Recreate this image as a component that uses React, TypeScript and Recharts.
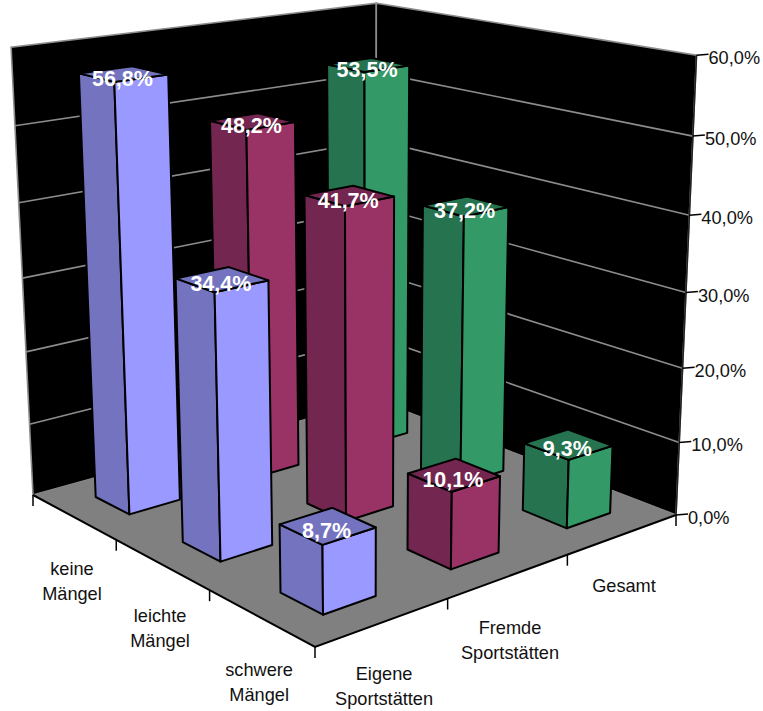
import React from "react";
import { BarChart, Bar, XAxis, YAxis, Customized } from "recharts";

const categories = [["keine", "Mängel"], ["leichte", "Mängel"], ["schwere", "Mängel"]];
const seriesLabels = [["Eigene", "Sportstätten"], ["Fremde", "Sportstätten"], ["Gesamt"]];
const eigene = [56.8, 34.4, 8.7];
const fremde = [48.2, 41.7, 10.1];
const gesamt = [53.5, 37.2, 9.3];
const valueTicks = [0, 10, 20, 30, 40, 50, 60];

const rows = categories.map((c, i) => ({
  name: c.join(" "),
  eigene: eigene[i],
  fremde: fremde[i],
  gesamt: gesamt[i],
}));

// Perspective camera fitted to the corners of the chart box
const floor = [[33, 495], [315, 647], [676, 515], [376, 400]];
const tops: number[][] = [[0, 0, 11, 45], [0, 1, 376, 7], [1, 1, 697, 53]];

function makeCamera() {
  const [[x0, y0], [x1, y1], [x2, y2], [x3, y3]] = floor;
  const dx1 = x1 - x2, dx2 = x3 - x2, sx = x0 - x1 + x2 - x3;
  const dy1 = y1 - y2, dy2 = y3 - y2, sy = y0 - y1 + y2 - y3;
  const den = dx1 * dy2 - dx2 * dy1;
  const g = (sx * dy2 - dx2 * sy) / den;
  const h = (dx1 * sy - sx * dy1) / den;
  const a = x1 - x0 + g * x1, b = x3 - x0 + h * x3, c = x0;
  const d = y1 - y0 + g * y1, e = y3 - y0 + h * y3, f = y0;
  // least squares for the height column (p, q, r)
  const N = [[0, 0, 0, 0], [0, 0, 0, 0], [0, 0, 0, 0]];
  const add = (row: number[], rhs: number) => {
    for (let i = 0; i < 3; i++) {
      for (let j = 0; j < 3; j++) N[i][j] += row[i] * row[j];
      N[i][3] += row[i] * rhs;
    }
  };
  tops.forEach(([u, v, tx, ty]) => {
    const w = g * u + h * v + 1;
    add([1, 0, -tx], tx * w - (a * u + b * v + c));
    add([0, 1, -ty], ty * w - (d * u + e * v + f));
  });
  for (let i = 0; i < 3; i++) {
    let m = i;
    for (let k = i + 1; k < 3; k++) if (Math.abs(N[k][i]) > Math.abs(N[m][i])) m = k;
    [N[i], N[m]] = [N[m], N[i]];
    for (let k = 0; k < 3; k++) {
      if (k === i) continue;
      const t = N[k][i] / N[i][i];
      for (let j = i; j < 4; j++) N[k][j] -= t * N[i][j];
    }
  }
  const p = N[0][3] / N[0][0], q = N[1][3] / N[1][1], r = N[2][3] / N[2][2];
  return (u: number, v: number, H: number): [number, number] => {
    const w = g * u + h * v + 1 + r * H;
    return [(a * u + b * v + c + p * H) / w, (d * u + e * v + f + q * H) / w];
  };
}
const P = makeCamera();
const poly = (pts: [number, number][]) => pts.map((q) => q[0].toFixed(1) + "," + q[1].toFixed(1)).join(" ");

const MAX = 60;
const FONT = "'Liberation Sans', Arial, sans-serif";
const GAP = 0.3;
const TEXT_SIZE = 18.2;

const Backdrop = () => (
  <g>
    <polygon points={poly([P(0, 0, 0), P(0, 1, 0), P(0, 1, 1), P(0, 0, 1)])} fill="#000" stroke="#8c8c8c" strokeWidth={1.6} />
    <polygon points={poly([P(0, 1, 0), P(1, 1, 0), P(1, 1, 1), P(0, 1, 1)])} fill="#000" stroke="#8c8c8c" strokeWidth={1.6} />
    {valueTicks.slice(1, -1).map((t) => {
      const H = t / MAX;
      return (
        <polyline key={t} points={poly([P(0, 0, H), P(0, 1, H), P(1, 1, H)])} fill="none" stroke="#8c8c8c" strokeWidth={1.6} />
      );
    })}
    <polygon points={poly([P(0, 0, 0), P(1, 0, 0), P(1, 1, 0), P(0, 1, 0)])} fill="#808080" />
    <polyline points={poly([P(0, 0, 0), P(1, 0, 0), P(1, 1, 0)])} fill="none" stroke="#000" strokeWidth={2} />
    <line x1={P(1, 1, 0)[0]} y1={P(1, 1, 0)[1]} x2={P(1, 1, 1)[0]} y2={P(1, 1, 1)[1]} stroke="#222" strokeWidth={1.6} />
    {[0, 1, 2, 3].map((i) => {
      const [x, y] = P(i / 3, 0, 0);
      return <line key={"c" + i} x1={x} y1={y} x2={x} y2={y + 11} stroke="#000" strokeWidth={1.5} />;
    })}
    {[1, 2, 3].map((j) => {
      const [x, y] = P(1, j / 3, 0);
      return <line key={"s" + j} x1={x} y1={y} x2={x} y2={y + 11} stroke="#000" strokeWidth={1.5} />;
    })}
    {seriesLabels.map((lines, j) => {
      const [x, y] = P(1, (j + 0.5) / 3, 0);
      return (
        <text key={j} textAnchor="middle" fontFamily={FONT} fontSize={TEXT_SIZE} fill="#111">
          {lines.map((l, k) => (
            <tspan key={k} x={x + 1} y={y + 58 + k * 25}>{l}</tspan>
          ))}
        </text>
      );
    })}
  </g>
);

const makeBox = (series: number, light: string, dark: string) => (props: any) => {
  const { index, height, value, background } = props;
  const plotH = background && background.height ? background.height : 700;
  const H = height / plotH;
  const u0 = (index + GAP) / 3, u1 = (index + 1 - GAP) / 3;
  const v0 = (series + GAP) / 3, v1 = (series + 1 - GAP) / 3;
  const stroke = { stroke: "#000", strokeWidth: 2, strokeLinejoin: "round" as const };
  const c = P((u0 + u1) / 2, (v0 + v1) / 2, H);
  return (
    <g>
      <polygon points={poly([P(u0, v0, 0), P(u1, v0, 0), P(u1, v0, H), P(u0, v0, H)])} fill={dark} {...stroke} />
      <polygon points={poly([P(u1, v0, 0), P(u1, v1, 0), P(u1, v1, H), P(u1, v0, H)])} fill={light} {...stroke} />
      <polygon points={poly([P(u0, v0, H), P(u1, v0, H), P(u1, v1, H), P(u0, v1, H)])} fill={dark} {...stroke} />
      <text x={c[0] - 1} y={c[1] + 12} textAnchor="middle" fontFamily={FONT} fontWeight="bold" fontSize={21.5} fill="#fff">
        {value.toFixed(1).replace(".", ",") + "%"}
      </text>
    </g>
  );
};

const CategoryTick = (props: any) => {
  const i = props.index;
  const [x, y] = P((i + 0.5) / 3, 0, 0);
  return (
    <text textAnchor="middle" fontFamily={FONT} fontSize={TEXT_SIZE} fill="#111">
      {categories[i].map((l, k) => (
        <tspan key={k} x={x - 1.5} y={y + 58 + k * 25}>{l}</tspan>
      ))}
    </text>
  );
};

const ValueTick = (props: any) => {
  const t = props.payload.value;
  const [x, y] = P(1, 1, t / MAX);
  return (
    <g>
      <line x1={x} y1={y} x2={x + 12} y2={y - 1} stroke="#000" strokeWidth={1.5} />
      <text x={x + 12} y={y + 9} fontFamily={FONT} fontSize={TEXT_SIZE} fill="#111">
        {t.toFixed(1).replace(".", ",") + "%"}
      </text>
    </g>
  );
};

export default function App() {
  return (
    <div style={{ position: "absolute", left: 0, top: 0, width: 763, height: 711, background: "#fff" }}>
      <BarChart width={763} height={711} data={rows} margin={{ top: 0, right: 0, bottom: 0, left: 0 }}>
        <Customized component={Backdrop} />
        <XAxis dataKey="name" axisLine={false} tickLine={false} interval={0} height={1} tick={<CategoryTick />} />
        <YAxis orientation="right" domain={[0, MAX]} ticks={valueTicks} axisLine={false} tickLine={false} interval={0} width={1} tick={<ValueTick />} />
        <Bar dataKey="gesamt" isAnimationActive={false} shape={makeBox(2, "#339966", "#267350")} />
        <Bar dataKey="fremde" isAnimationActive={false} shape={makeBox(1, "#993366", "#732650")} />
        <Bar dataKey="eigene" isAnimationActive={false} shape={makeBox(0, "#9999FF", "#7373BF")} />
      </BarChart>
    </div>
  );
}
